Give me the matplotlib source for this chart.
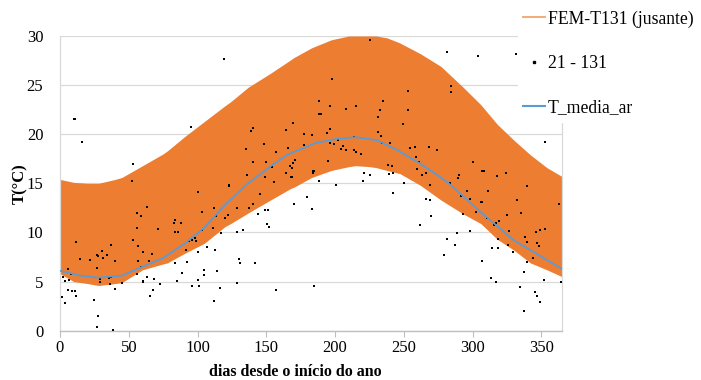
import matplotlib
matplotlib.use("Agg")
import matplotlib.pyplot as plt
from matplotlib.lines import Line2D

# ---- data ----
# FEM-T131 (jusante): envelope of daily oscillation
env_days = [0, 10, 20, 28, 40, 45, 60, 75, 78, 91, 105, 120, 124, 137, 153, 168, 170, 183, 197,
            200, 210, 215, 225, 230, 238, 247, 262, 277, 293, 306, 318, 330, 342, 354, 365]
env_upper = [15.4, 15.1, 15.0, 15.0, 15.4, 15.6, 16.8, 18.0, 18.3, 19.8, 21.3, 22.9, 23.3, 24.8, 26.2,
             27.6, 27.8, 28.8, 29.6, 29.7, 30.0, 30.0, 30.0, 30.0, 29.8, 29.3, 28.2, 26.9, 24.8,
             23.0, 21.0, 19.4, 17.9, 16.6, 15.7]
env_lower = [5.8, 5.0, 4.8, 4.6, 4.8, 4.9, 6.2, 6.8, 6.9, 7.9, 8.9, 10.6, 10.9, 12.0, 13.3,
             14.5, 14.6, 15.6, 16.3, 16.4, 16.7, 16.8, 16.7, 16.6, 16.3, 16.0, 14.8, 13.3, 11.9,
             10.9, 9.3, 8.2, 6.9, 6.2, 5.5]

# T_media_ar
ar_days = [0, 15, 28, 45, 58, 75, 91, 105, 120, 135, 152.8, 165, 185.6, 200, 214.7, 230,
           243.8, 260.8, 272.9, 282.6, 292.3, 305.7, 330, 354, 365]
ar_temp = [6.1, 5.6, 5.4, 5.6, 6.4, 7.4, 8.9, 10.5, 12.8, 14.8, 16.7, 17.9, 19.1, 19.5, 19.7, 19.4,
           18.5, 17.1, 16.0, 15.0, 13.8, 12.1, 9.2, 7.2, 6.3]

# 21 - 131 (measured points)
pt_days = [10.2, 10.9, 15.8, 52.9, 52.6, 55.8, 59, 55.8, 52.9, 56.5, 60.7, 11.6, 14.3, 21.8, 27.2,
           27.7, 30.8, 31.1, 34, 36.9, 39.8, 57, 6.1, 7.8, 2, 3.6, 6.8, 26.9, 29, 29, 35.7, 36.9,
           36.6, 45, 55.8, 60.2, 60.7, 1.7, 3.6, 6.1, 8.7, 10.7, 11.6, 25, 27.7, 26.7, 38.8, 39.8,
           118.9, 95.1, 100.7, 122.8, 63.6, 103, 112.2, 113.2, 120, 122, 71, 83.7, 83, 87.8, 83.5,
           86.1, 103.1, 111, 117.2, 67.2, 64.6, 58.7, 93.6, 96.3, 98.2, 98.8, 91.7, 100, 107, 113,
           83.7, 92.7, 63.6, 68.7, 72.8, 65.3, 67.4, 88.6, 84.9, 100.7, 104.5, 104.8, 95.8, 100.9,
           114, 116, 112.1,
           139, 140, 164, 169.1, 177.1, 183.2, 135.1, 148, 157, 166, 177.1, 140, 149.7, 135.8,
           149.2, 155.3, 154.1, 164.3, 167.4, 168.4, 169.4, 171.1, 167.7, 168.6, 183.7, 183.7,
           123, 145.6, 179.8, 169.8, 183.2, 128.8, 137.6, 140, 122, 143.9, 148.7, 151.1, 150.4,
           152.1, 128.9, 132.8, 129.8, 131, 141.9, 129, 157, 184.9,
           225.6, 198, 188.2, 188, 190, 196.3, 208.2, 215, 235.1, 232.4, 231.2, 194.1, 196.3,
           196.3, 199, 202.1, 206, 205.7, 204.5, 208.2, 214, 214, 215.2, 218.8, 231, 233.4, 234.2,
           240.2, 195.2, 184.4, 238.2, 241.1, 239.2, 242.1, 221.3, 225.2, 188, 200.4, 220.3, 242.1,
           281.2, 304, 253, 284, 284, 253, 249.2, 254.3, 258.4, 268.3, 274.2, 259.1, 261.3, 259.4,
           263.3, 266.2, 269.3, 250.1, 300.4, 306.9, 290, 289.5, 283.5, 291.3, 296.1, 298.3, 306.2,
           302.8, 266.2, 269.3, 270, 293, 262, 288.9, 297.9, 281.2, 287, 279.3, 307.1,
           331.9, 352.3, 308.1, 317.6, 324.4, 311, 339.2, 307, 332, 334.9, 324.7, 362.6, 315.4,
           317.3, 319, 310.3, 326.2, 337.8, 339.7, 346, 349, 352.8, 347, 348, 343.6, 318.3, 325.5,
           314.2, 318.3, 329.2, 339.2, 337.4, 351.6, 313.4, 317.3, 364.6, 334.2, 345.1, 347.1, 349,
           337.4]
pt_temp = [21.5, 21.6, 19.2, 17.0, 15.2, 12.0, 11.7, 10.5, 9.2, 8.6, 8.0, 9.0, 7.3, 7.2, 7.7,
           7.6, 8.1, 7.4, 7.7, 8.7, 7.1, 7.1, 6.3, 5.8, 5.5, 5.1, 5.2, 6.4, 5.3, 5.0, 5.4, 5.5,
           4.8, 4.9, 5.8, 5.1, 5.0, 3.4, 2.8, 4.1, 4.0, 4.0, 3.5, 3.1, 1.5, 0.4, 0.1, 4.2,
           27.7, 20.7, 14.1, 14.7, 12.6, 12.1, 12.5, 11.7, 11.5, 11.8, 10.4, 11.3, 11.0, 11.0, 10.0,
           10.0, 10.3, 10.5, 9.9, 7.8, 7.1, 6.5, 9.1, 9.2, 9.4, 9.1, 8.2, 8.0, 8.5, 8.2,
           6.9, 7.0, 5.5, 5.3, 4.8, 3.5, 4.1, 5.9, 5.1, 5.2, 6.2, 5.7, 4.5, 4.5,
           6.1, 4.3, 3.0,
           20.3, 20.6, 20.4, 21.1, 20.0, 19.9, 18.5, 19.0, 18.2, 18.6, 18.9, 17.2, 17.2, 15.9,
           15.6, 15.1, 16.7, 16.1, 16.8, 16.6, 17.1, 17.4, 15.6, 15.6, 16.3, 16.1,
           14.8, 13.9, 13.6, 12.9, 12.4, 12.5, 12.5, 12.9, 11.8, 11.9, 12.3, 12.3, 10.9,
           10.6, 10.0, 10.3, 7.3, 6.9, 6.9, 4.9, 4.1, 4.6,
           29.6, 25.6, 23.4, 22.1, 22.1, 22.9, 22.6, 22.9, 23.4, 22.5, 21.8, 20.1, 20.5,
           19.1, 19.0, 19.4, 18.8, 18.8, 18.5, 18.4, 19.7, 18.4, 18.2, 18.0, 20.2, 19.8, 19.1,
           19.1, 17.3, 16.3, 16.9, 16.8, 16.0, 16.1, 16.1, 15.8, 15.2, 14.8, 15.2, 14.0,
           28.4, 28.0, 24.4, 24.9, 24.3, 22.5, 21.0, 18.6, 18.7, 18.7, 18.4, 17.7, 17.2, 16.5,
           15.8, 16.1, 14.8, 15.0, 17.2, 16.3, 15.8, 15.5, 15.0, 13.7, 14.2, 13.4, 13.1,
           12.1, 13.4, 13.3, 11.7, 11.9, 10.8, 9.9, 10.1, 9.3, 8.7, 7.7, 7.1,
           28.2, 19.2, 16.3, 15.7, 16.1, 14.2, 14.7, 13.1, 13.3, 12.0, 11.8, 12.9, 10.8,
           11.0, 11.2, 11.5, 10.1, 9.5, 9.0, 10.0, 10.3, 10.4, 8.9, 8.6, 7.4, 9.3, 8.7,
           8.4, 8.4, 8.0, 7.0, 6.0, 5.2, 5.4, 5.0, 5.0, 4.4, 3.9, 3.5, 2.9,
           2.0]

x_ticks = [0, 50, 100, 150, 200, 250, 300, 350]
y_ticks = [0, 5, 10, 15, 20, 25, 30]

label_fem = "FEM-T131 (jusante)"
label_pts = "21 - 131"
label_ar = "T_media_ar"

plt.rcParams['font.family'] = ['Liberation Serif', 'DejaVu Serif']

fig = plt.figure(figsize=(7.01, 3.80), dpi=100)
ax = fig.add_axes([60 / 701, 1 - 330.7 / 380, 502 / 701, (330.7 - 36) / 380])

orange = '#ED7D31'
blue = '#5B9BD5'

ax.fill_between(env_days, env_lower, env_upper, color=orange, linewidth=0, zorder=2)
ax.scatter(pt_days, pt_temp, s=3, color='black', marker='s', linewidths=0, zorder=3)
ax.plot(ar_days, ar_temp, color=blue, linewidth=1.3, zorder=4)

ax.set_xlim(0, 365)
ax.set_ylim(0, 30)
ax.set_xticks(x_ticks)
ax.set_yticks(y_ticks)
ax.grid(axis='y', color='#D9D9D9', linewidth=0.9, zorder=0)
ax.set_axisbelow(True)
for side in ['left', 'right', 'top']:
    ax.spines[side].set_color('#D9D9D9')
    ax.spines[side].set_linewidth(0.9)
ax.spines['top'].set_visible(False)
ax.spines['bottom'].set_color('#BFBFBF')
ax.spines['bottom'].set_linewidth(1.0)
ax.tick_params(axis='x', length=4, color='#BFBFBF', labelsize=12, pad=3)
ax.tick_params(axis='y', length=0, labelsize=12, pad=12)

ax.set_xlabel('dias desde o início do ano', fontsize=11.5, fontweight='bold')
ax.xaxis.set_label_coords((295 - 60) / 502, (330.7 - 364) / 294.7)
ax.set_ylabel('T(°C)', fontsize=12, fontweight='bold')
ax.yaxis.set_label_coords((28 - 60) / 502, 0.5)

handles = [
    Line2D([], [], color='#F4A46A', linewidth=1.3),
    Line2D([], [], color='black', marker='s', markersize=2, linestyle='none'),
    Line2D([], [], color=blue, linewidth=1.5),
]
leg = fig.legend(handles, [label_fem, label_pts, label_ar], loc='upper left',
                 bbox_to_anchor=(518 / 701, 1.0 - 5 / 380), fontsize=12.7, frameon=True,
                 facecolor='white', edgecolor='white', framealpha=1, fancybox=False,
                 handlelength=1.25, handletextpad=0.15, labelspacing=1.55, borderpad=0.3,
                 borderaxespad=0.0)

fig.savefig('out.png', dpi=100)
